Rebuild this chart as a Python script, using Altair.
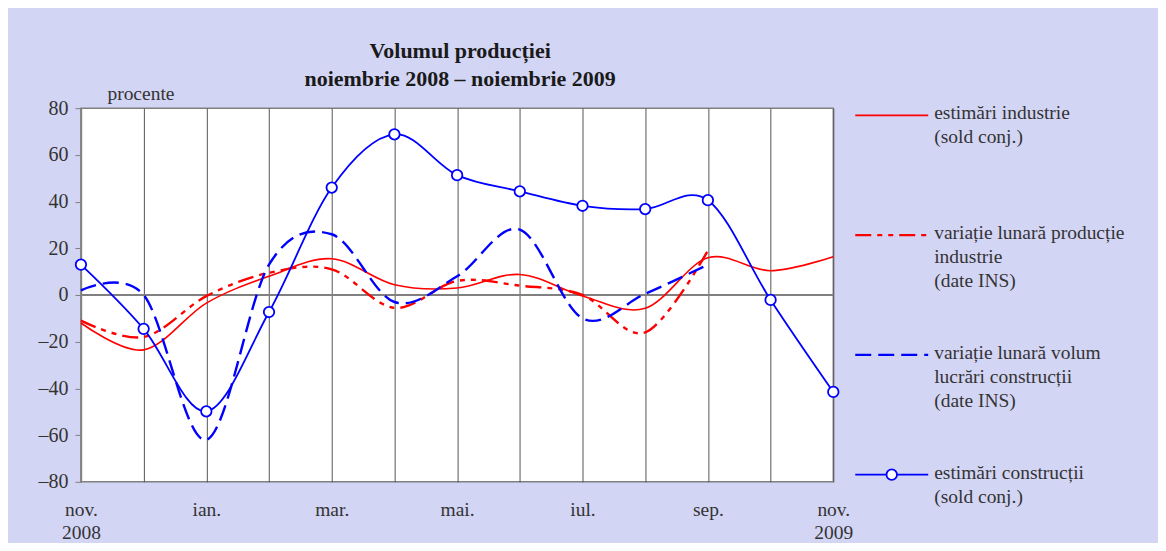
import json
import altair as alt
import pandas as pd

# ---- data ----
MONTH_IDX = list(range(13))  # nov. 2008 ... nov. 2009
TICK_LABELS = [["nov.", "2008"], "", "ian.", "", "mar.", "", "mai.", "", "iul.", "", "sep.", "", ["nov.", "2009"]]

IND_EST = [-12, -23.5, -3.5, 8, 15.5, 4.4, 3, 8.8, -0.4, -5.7, 15.9, 10.4, 16.4]
IND_INS = [-11, -18, -0.5, 9.5, 11, -5.5, 6, 4, 0, -16, 19]
CON_INS = [2, 0, -62, 13, 26, -3, 8, 28, -10, 0.5, 13]
CON_EST = [13, -14.5, -49.8, -7.3, 46, 68.8, 51.3, 44.4, 38.2, 36.8, 40.6, -2.1, -41.5]

LEGEND_LABELS = [
    "estimări industrie\n(sold conj.)",
    "variație lunară producție\nindustrie\n(date INS)",
    "variație lunară volum\nlucrări construcții\n(date INS)",
    "estimări construcții\n(sold conj.)",
]
RED = "#ff0000"
BLUE = "#0000ff"
DASH_DOT = [16, 6, 5, 6, 5, 6]
DASH = [16, 7]

FONT = "Liberation Serif"
TXT = "#333333"
W, H = 753, 374


def frame(values):
    return pd.DataFrame({"luna": MONTH_IDX[: len(values)], "valoare": values})


x_enc = alt.X(
    "luna:Q",
    scale=alt.Scale(domain=[0, 12], nice=False, zero=False),
    axis=alt.Axis(
        values=MONTH_IDX,
        labelExpr=json.dumps(TICK_LABELS, ensure_ascii=False) + "[datum.value]",
        grid=True, gridColor="#555555", gridWidth=1,
        ticks=False, domain=False,
        labelOverlap=False, labelFlush=False, labelBound=False,
        labelPadding=19, labelLineHeight=22.5, labelFontSize=19.5,
        labelFont=FONT, labelColor=TXT, title=None,
    ),
)
y_enc = alt.Y(
    "valoare:Q",
    scale=alt.Scale(domain=[-80, 80], nice=False),
    axis=alt.Axis(
        values=list(range(-80, 81, 10)),
        labelExpr="datum.value % 20 == 0 ? (datum.value < 0 ? '\u2013' + abs(datum.value) : '' + datum.value) : ''",
        tickSize=6, tickColor="#808080", domainColor="#808080", domainWidth=1.5,
        labelPadding=7, labelFontSize=20, labelFont=FONT, labelColor=TXT,
        grid=False, labelOverlap=False,
        title="procente", titleAngle=0, titleX=26, titleY=-9,
        titleAlign="left", titleBaseline="alphabetic",
        titleFontWeight="normal", titleFontSize=19.5, titleFont=FONT, titleColor=TXT,
        minExtent=60, maxExtent=60,
    ),
)

zero_rule = alt.Chart(pd.DataFrame({"z": [0]})).mark_rule(color="#808080", strokeWidth=2).encode(
    y=alt.Y(datum=0)
)

l_ind_est = alt.Chart(frame(IND_EST)).mark_line(
    color=RED, strokeWidth=1.6, interpolate="cardinal"
).encode(x=x_enc, y=y_enc)
l_ind_ins = alt.Chart(frame(IND_INS)).mark_line(
    color=RED, strokeWidth=2.4, strokeDash=DASH_DOT, interpolate="cardinal"
).encode(x=x_enc, y=y_enc)
l_con_ins = alt.Chart(frame(CON_INS)).mark_line(
    color=BLUE, strokeWidth=2.4, strokeDash=DASH, interpolate="cardinal"
).encode(x=x_enc, y=y_enc)
l_con_est = alt.Chart(frame(CON_EST)).mark_line(
    color=BLUE, strokeWidth=1.8, interpolate="cardinal"
).encode(x=x_enc, y=y_enc)
p_con_est = alt.Chart(frame(CON_EST)).mark_point(
    shape="circle", filled=True, fill="white", stroke=BLUE, strokeWidth=1.8, size=110, opacity=1
).encode(x=x_enc, y=y_enc)

main = alt.layer(zero_rule, l_ind_est, l_ind_ins, l_con_ins, l_con_est, p_con_est).properties(
    width=W,
    height=H,
    view=alt.ViewBackground(fill="white", stroke="#808080", strokeWidth=1.5),
    title=alt.TitleParams(
        ["Volumul producției", "noiembrie 2008 – noiembrie 2009"],
        font=FONT, fontSize=22, fontWeight="bold", color="#1a1a1a",
        anchor="middle", frame="group", offset=-8, dx=3, lineHeight=28,
    ),
)

# ---- legend panel ----
leg_df = pd.DataFrame({"eticheta": LEGEND_LABELS, "ord": [0, 1, 2, 3]})
ly = alt.Y("eticheta:N", scale=alt.Scale(type="point", domain=LEGEND_LABELS, padding=0.06), axis=None)
lx_scale = alt.Scale(domain=[0, 1])
styles = [
    dict(color=RED, strokeWidth=1.6),
    dict(color=RED, strokeWidth=2.4, strokeDash=DASH_DOT),
    dict(color=BLUE, strokeWidth=2.4, strokeDash=DASH),
    dict(color=BLUE, strokeWidth=1.8),
]
leg_layers = []
for i, st in enumerate(styles):
    leg_layers.append(
        alt.Chart(leg_df).transform_filter(alt.datum.ord == i).mark_rule(**st).encode(
            x=alt.X(datum=0, scale=lx_scale, axis=None), x2=alt.X2(datum=1), y=ly
        )
    )
leg_point = alt.Chart(leg_df).transform_filter(alt.datum.ord == 3).mark_point(
    shape="circle", filled=True, fill="white", stroke=BLUE, strokeWidth=1.8, size=110, opacity=1
).encode(x=alt.X(datum=0.5, scale=lx_scale, axis=None), y=ly)
leg_text = alt.Chart(leg_df).mark_text(
    align="left", baseline="top", dx=6, dy=-11, lineBreak="\n", lineHeight=24,
    font=FONT, fontSize=19.5, color=TXT,
).encode(x=alt.X(datum=1, scale=lx_scale, axis=None), y=ly, text="eticheta:N")

legend = alt.layer(*leg_layers, leg_point, leg_text).properties(
    width=73, height=H, view=alt.ViewBackground(stroke="transparent")
)

chart = (
    alt.hconcat(main, legend, spacing=22, bounds="flush")
    .properties(padding={"left": 12, "top": 31, "right": 32, "bottom": 0})
    .configure(background="#d3d5f5")
)

chart.save("out.html", embed_options={"renderer": "svg", "actions": False})
